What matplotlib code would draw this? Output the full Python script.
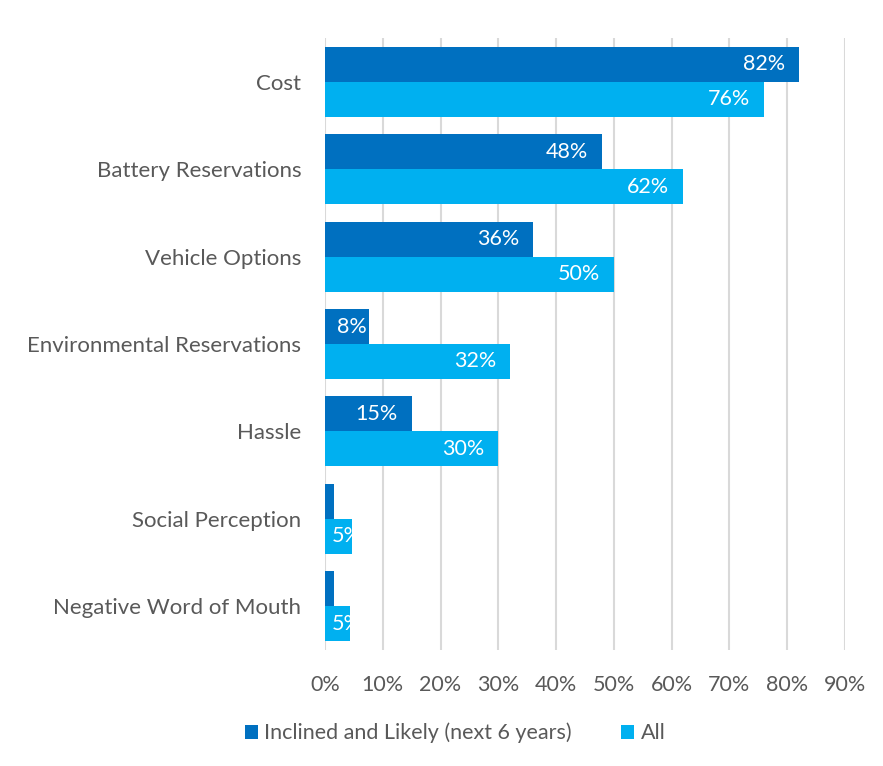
import matplotlib.pyplot as plt
import numpy as np

categories = ['Cost', 'Battery Reservations', 'Vehicle Options',
              'Environmental Reservations', 'Hassle', 'Social Perception',
              'Negative Word of Mouth']
inclined = [82, 48, 36, 7.6, 15, 1.5, 1.5]
all_resp = [76, 62, 50, 32, 30, 4.7, 4.4]
inclined_labels = ['82%', '48%', '36%', '8%', '15%', '', '']
all_labels = ['76%', '62%', '50%', '32%', '30%', '5%', '5%']
xticks = [0, 10, 20, 30, 40, 50, 60, 70, 80, 90]

dark = '#0070C0'
light = '#00B0F0'
grey = '#595959'
fs = 15.5

plt.rcParams['font.family'] = ['Lato', 'DejaVu Sans']

fig = plt.figure(figsize=(8.83, 7.66), dpi=100)
ax = fig.add_axes([325 / 883, 1 - 650 / 766, 520 / 883, 612 / 766])

y = np.arange(len(categories))
h = 0.4
ax.barh(y - h / 2, inclined, height=h, color=dark, label='Inclined and Likely (next 6 years)', zorder=3)
ax.barh(y + h / 2, all_resp, height=h, color=light, label='All', zorder=3)

for i in range(len(categories)):
    for val, lab, off in ((inclined[i], inclined_labels[i], -h / 2), (all_resp[i], all_labels[i], h / 2)):
        if not lab:
            continue
        if val < 6:
            ax.annotate(lab, (0, y[i] + off), xytext=(5, 0), textcoords='offset points',
                        ha='left', va='center', color='white', fontsize=fs, zorder=4)
        elif val < 10:
            ax.annotate(lab, (val, y[i] + off), xytext=(-1.5, 0), textcoords='offset points',
                        ha='right', va='center', color='white', fontsize=fs, zorder=4)
        else:
            ax.annotate(lab, (val, y[i] + off), xytext=(-10, 0), textcoords='offset points',
                        ha='right', va='center', color='white', fontsize=fs, zorder=4)

ax.set_ylim(len(categories) - 0.5, -0.5)
ax.set_xlim(0, 90)
ax.set_xticks(xticks)
ax.set_xticklabels([f'{t}%' for t in xticks])
ax.set_yticks(y)
ax.set_yticklabels(categories)
ax.tick_params(axis='both', length=0, labelsize=fs, colors=grey)
ax.tick_params(axis='y', pad=17, labelsize=16)
ax.tick_params(axis='x', pad=18)
ax.grid(axis='x', color='#D9D9D9', linewidth=1.5, zorder=0)
for s in ax.spines.values():
    s.set_visible(False)

fig.legend(loc='center', bbox_to_anchor=(455 / 883, 1 - 733 / 766), ncol=2, frameon=False,
           fontsize=15.5, labelcolor=grey, handlelength=0.6, handleheight=0.6,
           handletextpad=0.3, columnspacing=2.3)

fig.savefig('out.png', dpi=100)
